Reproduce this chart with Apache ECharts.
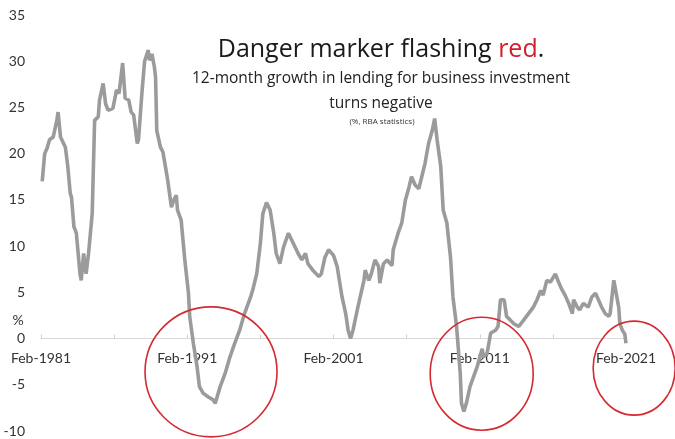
<!DOCTYPE html>
<html><head><meta charset="utf-8">
<script src="https://cdn.jsdelivr.net/npm/echarts@6/dist/echarts.min.js"></script>
<style>html,body{margin:0;padding:0;background:#fff}#c{width:675px;height:439px}</style>
</head><body><div id="c"></div>
<script>
// Month of each reading (YYYY-MM)
const months = [
"1981-03","1981-05","1981-07","1981-09","1981-12","1982-03","1982-04","1982-06","1982-10","1982-12",
"1983-02","1983-03","1983-05","1983-07","1983-10","1983-11","1984-01","1984-03","1984-05","1984-08",
"1984-10","1985-01","1985-02","1985-05","1985-07","1985-09","1986-01","1986-04","1986-06","1986-09",
"1986-11","1987-02","1987-04","1987-06","1987-09","1987-10","1988-01","1988-03","1988-06","1988-07",
"1988-09","1988-11","1988-12","1989-01","1989-04","1989-06","1989-09","1989-10","1990-01","1990-03",
"1990-05","1990-06","1990-09","1990-12","1991-03","1991-04","1991-07","1991-10","1991-12","1992-03",
"1992-07","1992-11","1993-01","1993-05","1993-09","1994-01","1994-05","1994-09","1995-01","1995-06",
"1995-08","1995-11","1996-02","1996-04","1996-07","1996-10","1997-01","1997-03","1997-06","1997-09",
"1998-01","1998-05","1998-09","1998-12","1999-03","1999-05","1999-09","2000-02","2000-04","2000-07",
"2000-10","2001-02","2001-05","2001-09","2001-12","2002-02","2002-04","2002-06","2002-10","2003-03",
"2003-04","2003-07","2003-09","2003-12","2004-03","2004-04","2004-07","2004-10","2005-02","2005-03",
"2005-07","2005-10","2006-01","2006-04","2006-06","2006-09","2006-12","2007-05","2007-08","2007-11",
"2008-01","2008-03","2008-06","2008-08","2008-11","2009-02","2009-04","2009-07","2009-10","2009-11",
"2010-01","2010-03","2010-06","2010-09","2010-12","2011-04","2011-05","2011-08","2011-11","2012-03",
"2012-05","2012-07","2012-10","2012-12","2013-03","2013-06","2013-10","2014-02","2014-06","2014-10",
"2015-01","2015-04","2015-06","2015-09","2015-12","2016-04","2016-07","2016-09","2016-12","2017-03",
"2017-06","2017-07","2017-10","2017-12","2018-03","2018-07","2018-10","2019-01","2019-03","2019-06",
"2019-09","2019-12","2020-01","2020-04","2020-05","2020-08","2020-09","2020-11","2021-01","2021-02"
];
// 12-month growth in business lending (%)
const growth = [
17.0,20.0,20.6,21.5,21.8,23.6,24.5,21.8,20.7,18.6,
15.7,15.3,12.1,11.4,7.0,6.3,9.2,7.0,9.2,13.5,
23.6,24.0,25.8,27.6,25.4,24.7,24.9,26.9,26.5,29.8,
26.0,25.8,24.5,24.2,21.1,21.5,26.9,30.0,31.2,30.1,
30.8,29.4,28.3,22.5,20.7,20.2,17.9,17.1,14.2,15.0,
15.5,13.9,12.8,8.5,4.9,2.4,-0.5,-3.0,-5.2,-5.9,
-6.3,-6.6,-7.0,-5.2,-3.8,-2.0,-0.5,0.9,2.7,4.5,
5.4,7.0,10.3,13.5,14.7,13.9,11.4,9.2,8.1,9.9,
11.4,10.3,9.2,8.5,9.2,8.1,7.4,6.7,7.0,8.8,
9.6,9.0,7.8,4.5,2.7,0.9,0.0,0.9,3.4,6.3,
7.4,6.3,7.0,8.5,7.8,6.0,8.1,8.5,7.9,9.6,
11.4,12.5,15.0,16.4,17.5,16.6,16.2,18.9,21.1,22.5,
23.8,21.5,18.6,13.9,12.5,8.8,4.5,1.3,-3.8,-7.0,
-7.9,-7.0,-5.2,-4.1,-3.0,-1.1,-2.0,-1.6,0.6,0.9,
1.3,4.2,4.2,2.4,2.0,1.6,1.3,2.0,2.7,3.4,
4.2,5.2,4.7,6.3,6.1,7.0,6.0,5.4,4.7,3.8,
2.7,4.2,3.4,3.1,3.8,3.4,4.5,4.9,4.3,3.4,
2.7,2.4,2.7,6.3,6.3,3.4,1.6,0.9,0.5,-0.5
];
const xLabelEvery = 120;   // months between tick labels
const yTickValues = [-10,-5,0,5,10,15,20,25,30,35];
// annotation circles: centre in [months since Feb-1981, %], radii in px
const ringCentres = [[139.5,-3.6],[361.6,-3.8],[486.7,-3.2]];
const ringRadii = [[66,65],[51.5,56.5],[41,47]];

function monthIndex(s){const [y,m]=s.split('-').map(Number);return (y-1981)*12+(m-2);}
const seriesData = months.map((d,i)=>[monthIndex(d),growth[i]]);

const chart = echarts.init(document.getElementById('c'));
const font = 'Lato, "Noto Sans", sans-serif';
const tfont = '"Open Sans", "Noto Sans", sans-serif';
const H = 439, gridBottom = 8;
chart.setOption({
  animation:false,
  backgroundColor:'#fff',
  grid:{left:41,right:49,top:15,bottom:gridBottom,containLabel:false,outerBoundsMode:'none'},
  xAxis:{type:'value',min:0,max:480,interval:60,position:'bottom',
    axisLine:{onZero:false,lineStyle:{color:'#d9d9d9',width:1}},
    axisTick:{show:true,inside:true,length:4,lineStyle:{color:'#d0d0d0'}},
    splitLine:{show:false},
    axisLabel:{margin:13,fontSize:14,color:'#333',fontFamily:font,
      formatter:v=>(v%xLabelEvery===0)?('Feb-'+(1981+v/12)):''}},
  yAxis:{type:'value',min:yTickValues[0],max:yTickValues[yTickValues.length-1],interval:5,
    axisLine:{show:false},axisTick:{show:false},splitLine:{show:false},
    axisLabel:{margin:16,fontSize:14,color:'#333',fontFamily:font}},
  series:[{type:'line',data:seriesData,symbol:'none',smooth:false,
    lineStyle:{color:'#9b9b9b',width:3.6},z:3}]
});
// move the category axis up to the zero line (labels travel with it)
const zeroY = chart.convertToPixel({yAxisIndex:0}, 0);
chart.setOption({xAxis:{offset:zeroY-(H-gridBottom)}});

const gr = [
  {type:'text',x:18,y:320,style:{text:'%',font:'14px '+font,fill:'#333',align:'center',verticalAlign:'middle'}},
  {type:'text',x:381,y:50,style:{
    text:'{a|Danger marker flashing }{b|red}{a|.}',align:'center',verticalAlign:'middle',
    rich:{a:{fontSize:25,fontFamily:tfont,fill:'#1a1a1a'},b:{fontSize:25,fontFamily:tfont,fill:'#d0202e'}}}},
  {type:'text',x:381,y:79,style:{text:'12-month growth in lending for business investment',font:'15.5px '+tfont,fill:'#222',align:'center',verticalAlign:'middle'}},
  {type:'text',x:381,y:104,style:{text:'turns negative',font:'15.5px '+tfont,fill:'#222',align:'center',verticalAlign:'middle'}},
  {type:'text',x:382,y:122,style:{text:'(%, RBA statistics)',font:'8px '+tfont,fill:'#333',align:'center',verticalAlign:'middle'}}
];
ringCentres.forEach((c,i)=>{
  const p = chart.convertToPixel({gridIndex:0}, c);
  gr.push({type:'ellipse',shape:{cx:p[0],cy:p[1],rx:ringRadii[i][0],ry:ringRadii[i][1]},
    style:{fill:'none',stroke:'#d42a30',lineWidth:1.6},z:10});
});
chart.setOption({graphic:gr});
</script></body></html>
